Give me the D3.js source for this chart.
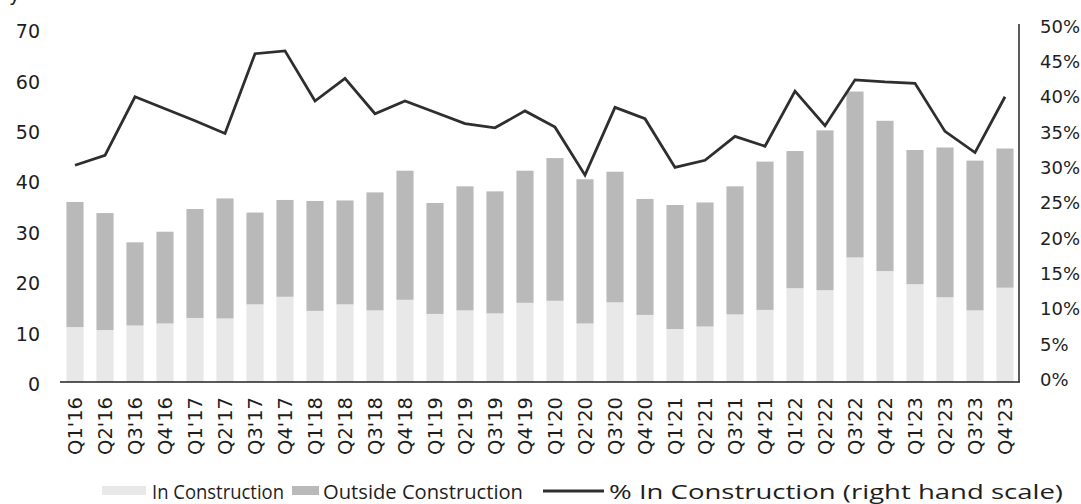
<!DOCTYPE html>
<html>
<head>
<meta charset="utf-8">
<script src="https://cdn.jsdelivr.net/npm/d3@7"></script>
<style>
  html, body { margin: 0; padding: 0; background: #fff; }
  svg { display: block; }
</style>
</head>
<body>
<svg id="chart" width="1081" height="504"></svg>
<script>
const quarters = ["Q1'16","Q2'16","Q3'16","Q4'16","Q1'17","Q2'17","Q3'17","Q4'17",
  "Q1'18","Q2'18","Q3'18","Q4'18","Q1'19","Q2'19","Q3'19","Q4'19",
  "Q1'20","Q2'20","Q3'20","Q4'20","Q1'21","Q2'21","Q3'21","Q4'21",
  "Q1'22","Q2'22","Q3'22","Q4'22","Q1'23","Q2'23","Q3'23","Q4'23"];
const inConstruction = [10.9,10.3,11.2,11.6,12.7,12.6,15.4,16.9,14.1,15.4,14.2,16.3,13.5,14.2,13.6,15.7,
  16.1,11.6,15.8,13.3,10.5,11.0,13.4,14.3,18.6,18.2,24.7,22.0,19.4,16.8,14.2,18.7];
const outsideConstruction = [24.8,23.2,16.5,18.2,21.6,23.8,18.2,19.2,21.8,20.6,23.4,25.6,22.0,24.6,24.2,26.2,
  28.3,28.6,25.9,23.0,24.6,24.6,25.4,29.4,27.2,31.7,32.9,29.8,26.6,29.7,29.7,27.6];
const pctInConstruction = [30.7,32.1,40.4,38.7,37.0,35.2,46.5,46.9,39.8,43.0,38.0,39.8,38.2,36.6,36.0,38.4,
  36.1,29.3,38.9,37.3,30.4,31.4,34.8,33.4,41.2,36.3,42.8,42.5,42.3,35.5,32.5,40.4];
const leftTicks = [0,10,20,30,40,50,60,70];
const rightTicks = [0,5,10,15,20,25,30,35,40,45,50];
const legendLabels = ["In Construction","Outside Construction","% In Construction (right hand scale)"];

const svg = d3.select("#chart");
const font = "'DejaVu Sans', Verdana, sans-serif";
const textColor = "#1e1e1e";
const cIn = "#e8e8e8", cOut = "#b9b9b9", cLine = "#2e2e2e";

const x = d3.scaleBand().domain(quarters).range([60, 1020]).paddingInner(0.43).paddingOuter(0.215);
const yL = d3.scaleLinear().domain([0, 70]).range([382, 29]);
const yR = d3.scaleLinear().domain([0, 50]).range([382, 29]);

// bars
const g = svg.append("g");
g.selectAll("rect.in").data(quarters).join("rect")
  .attr("x", d => x(d)).attr("width", x.bandwidth())
  .attr("y", (d,i) => yL(inConstruction[i]))
  .attr("height", (d,i) => yL(0) - yL(inConstruction[i]))
  .attr("fill", cIn);
g.selectAll("rect.out").data(quarters).join("rect")
  .attr("x", d => x(d)).attr("width", x.bandwidth())
  .attr("y", (d,i) => yL(inConstruction[i] + outsideConstruction[i]))
  .attr("height", (d,i) => yL(inConstruction[i]) - yL(inConstruction[i] + outsideConstruction[i]))
  .attr("fill", cOut);

// baseline & right axis line
svg.append("line").attr("x1", 60).attr("x2", 1020).attr("y1", yL(0)).attr("y2", yL(0))
  .attr("stroke", "#222").attr("stroke-width", 1.6);
svg.append("line").attr("x1", 1019).attr("x2", 1019).attr("y1", yR(50) - 5).attr("y2", yR(0))
  .attr("stroke", "#333").attr("stroke-width", 1.6);

// line
const line = d3.line().x((d,i) => x(quarters[i]) + x.bandwidth()/2).y(d => yR(d));
svg.append("path").datum(pctInConstruction).attr("d", line)
  .attr("fill", "none").attr("stroke", cLine).attr("stroke-width", 2.8)
  .attr("stroke-linejoin", "miter");

// left axis
const leftAxis = d3.axisLeft(yL).tickValues(leftTicks).tickSize(0).tickPadding(0);
const la = svg.append("g").attr("transform", "translate(40,2)").call(leftAxis);
la.select(".domain").remove();
la.selectAll("text").attr("font-family", font).attr("font-size", 19).attr("fill", textColor)
  .attr("dy", "0.35em");

// right axis
const rightAxis = d3.axisRight(yR).tickValues(rightTicks).tickSize(0).tickPadding(0)
  .tickFormat(d => d + "%");
const ra = svg.append("g").attr("transform", "translate(1040,-3)").call(rightAxis);
ra.select(".domain").remove();
ra.selectAll("text").attr("font-family", font).attr("font-size", 18).attr("fill", textColor)
  .attr("dy", "0.35em");

// x axis labels
const xa = svg.append("g").attr("transform", "translate(0,397)").call(d3.axisBottom(x).tickSize(0).tickPadding(0));
xa.select(".domain").remove();
xa.selectAll("text").attr("font-family", font).attr("font-size", 19.5).attr("fill", textColor)
  .attr("text-anchor", "end").attr("transform", "rotate(-90)")
  .attr("x", 0).attr("y", 0).attr("dy", "0.35em");

// partial title glyph at top-left (cut off at the top edge, as in the reference)
svg.append("text").attr("x", 9).attr("y", 1).attr("font-family", font).attr("font-size", 19)
  .attr("fill", textColor).text("y");

// legend
const lg = svg.append("g").attr("font-family", "'Open Sans', sans-serif")
  .attr("font-size", 20).attr("fill", textColor);
lg.append("rect").attr("x", 102).attr("y", 486).attr("width", 44).attr("height", 9).attr("fill", cIn);
lg.append("text").attr("x", 152).attr("y", 499).attr("textLength", 132).attr("lengthAdjust", "spacingAndGlyphs").text(legendLabels[0]);
lg.append("rect").attr("x", 292).attr("y", 486).attr("width", 27).attr("height", 9).attr("fill", cOut);
lg.append("text").attr("x", 323).attr("y", 499).attr("textLength", 200).attr("lengthAdjust", "spacingAndGlyphs").text(legendLabels[1]);
lg.append("line").attr("x1", 543).attr("x2", 604).attr("y1", 491).attr("y2", 491).attr("stroke", cLine).attr("stroke-width", 3);
lg.append("text").attr("x", 609).attr("y", 499).attr("textLength", 454).attr("lengthAdjust", "spacingAndGlyphs").text(legendLabels[2]);
</script>
</body>
</html>
